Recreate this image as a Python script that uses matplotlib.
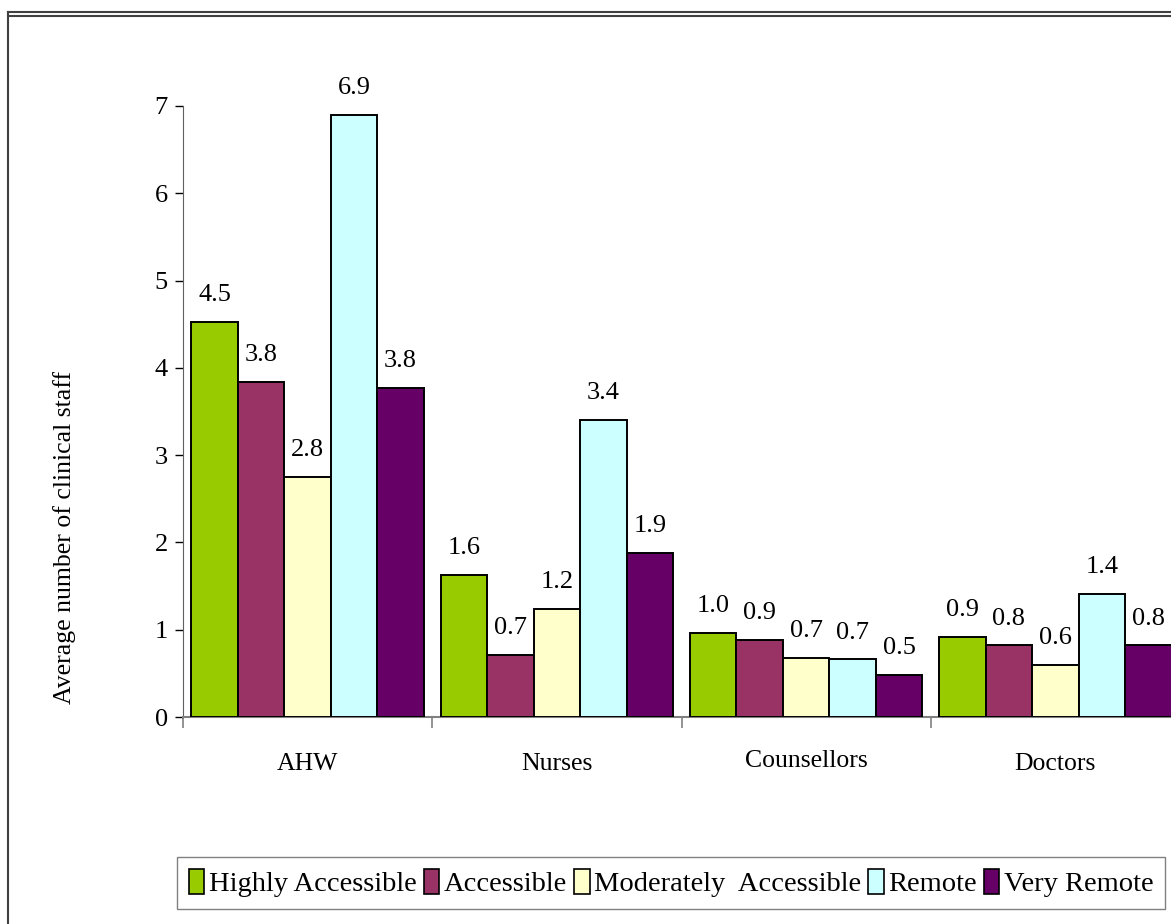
import numpy as np
import matplotlib.pyplot as plt
import matplotlib.transforms as mtransforms
from matplotlib.lines import Line2D
from matplotlib.patches import Patch

plt.rcParams['font.family'] = 'Liberation Serif'

# average clinical staff per service, by accessibility/remoteness class
categories = ['AHW', 'Nurses', 'Counsellors', 'Doctors']
series_names = ['Highly Accessible', 'Accessible', 'Moderately  Accessible',
                'Remote', 'Very Remote']
highly_accessible = [4.53, 1.63, 0.96, 0.92]
accessible = [3.84, 0.71, 0.88, 0.82]
moderately_accessible = [2.75, 1.24, 0.68, 0.60]
remote = [6.90, 3.40, 0.66, 1.41]
very_remote = [3.77, 1.88, 0.48, 0.82]
yticks = [0, 1, 2, 3, 4, 5, 6, 7]

series = [highly_accessible, accessible, moderately_accessible, remote, very_remote]
colours = ['#99CC00', '#993366', '#FFFFCC', '#CCFFFF', '#660066']

fig = plt.figure(figsize=(11.71, 9.24), dpi=100)
fig.set_facecolor('white')
ax = fig.add_axes([183 / 1171, 1 - 717 / 924, 997 / 1171, (717 - 106) / 924])

x = np.arange(len(categories))
width = 0.1866
for i, (vals, col) in enumerate(zip(series, colours)):
    pos = x + (i - 2) * width
    ax.bar(pos, vals, width=width, color=col, edgecolor='black', linewidth=1.4, zorder=3)
    for px, v in zip(pos, vals):
        ax.annotate(f'{v:.1f}', (px, v), xytext=(0, 15), textcoords='offset points',
                    ha='center', va='baseline', fontsize=19)

ax.set_xlim(-0.5, 3.5)
ax.set_ylim(0, 7)
ax.set_yticks(yticks)
ax.set_yticklabels([str(t) for t in yticks], fontsize=19)

# category names in the middle, tick marks on group boundaries
ax.set_xticks(x)
ax.set_xticklabels(categories, fontsize=18.5)
ax.tick_params(axis='x', which='major', length=0, pad=26)
ax.set_xticks(np.arange(-0.5, 3.6, 1), minor=True)
ax.tick_params(axis='x', which='minor', length=8, width=1.2, color='#808080')
ax.tick_params(axis='y', length=6, width=1, color='black', pad=5)

# "Counsellors" sits a little higher than the other names
lbl = ax.get_xticklabels()[2]
lbl.set_transform(lbl.get_transform() +
                  mtransforms.ScaledTranslation(0, 0.03, fig.dpi_scale_trans))

for s in ['top', 'right']:
    ax.spines[s].set_visible(False)
ax.spines['left'].set_color('#606060')
ax.spines['bottom'].set_color('#808080')
ax.spines['bottom'].set_linewidth(1.5)

fig.text(65 / 1171, 1 - 537 / 924, 'Average number of clinical staff',
         rotation=90, ha='center', va='center', fontsize=18.5)

handles = [Patch(facecolor=c, edgecolor='black', linewidth=1.2) for c in colours]
leg = fig.legend(handles, series_names, loc='center', ncol=5,
                 bbox_to_anchor=(671 / 1171, 1 - 883 / 924),
                 fontsize=20.5, frameon=True, fancybox=False,
                 handlelength=0.55, handleheight=1.0, handletextpad=0.15,
                 columnspacing=0.25, borderpad=0.4)
leg.get_frame().set_edgecolor('#606060')
leg.get_frame().set_linewidth(1.0)

# outer frame lines
fig.add_artist(Line2D([8 / 1171, 1], [1 - 12 / 924] * 2, color='#404040', lw=1.5))
fig.add_artist(Line2D([8 / 1171, 1], [1 - 15.5 / 924] * 2, color='#404040', lw=1.5))
fig.add_artist(Line2D([8 / 1171] * 2, [0, 1 - 12 / 924], color='#404040', lw=1.5))

fig.savefig('out.png', dpi=100)
